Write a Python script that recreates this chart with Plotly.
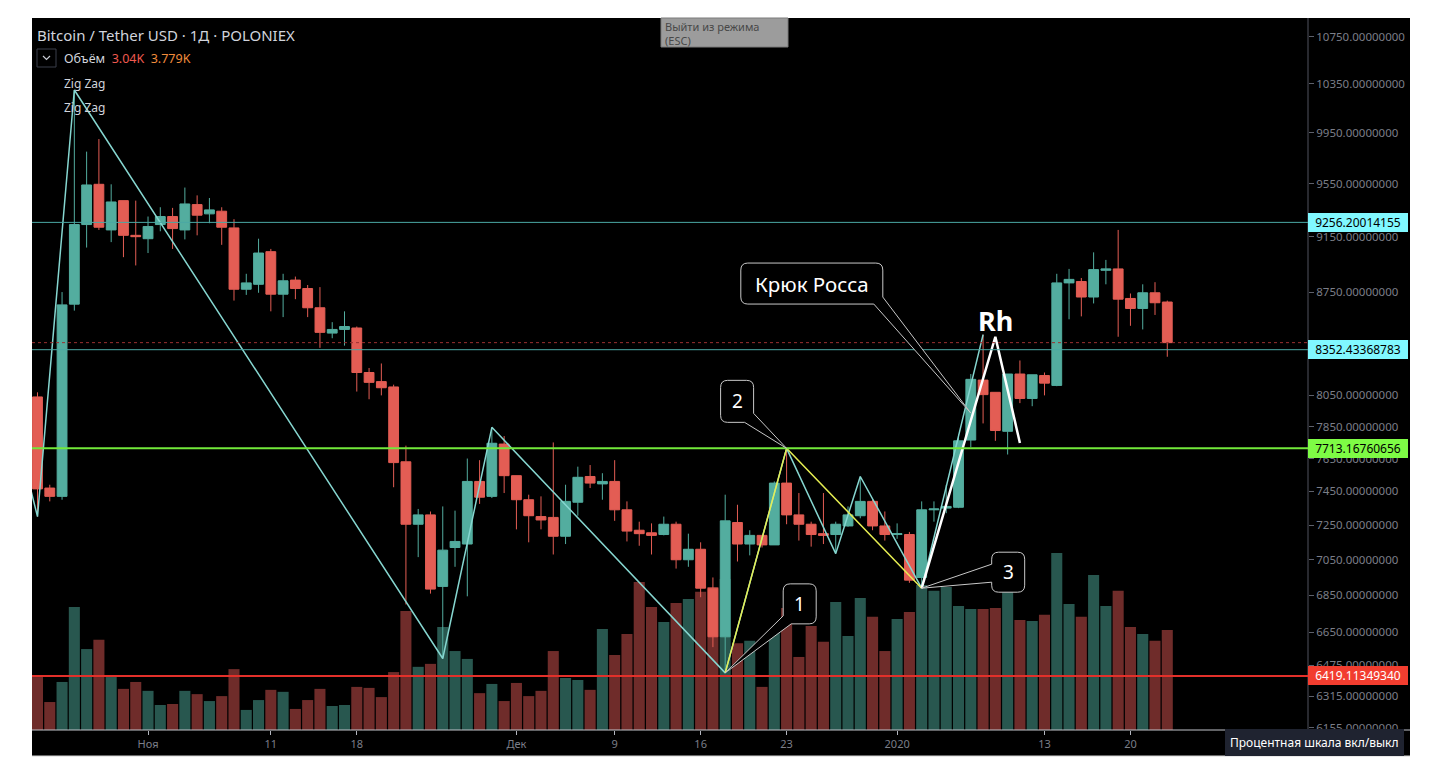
#
#   plot.py
#   BTC/USDT daily candles (Poloniex) with volume, zig zag and Ross hook markup
#

import math
import pandas as pd
import plotly.graph_objects as go


#
#   data
#
dates = pd.date_range("2019-10-23", "2020-01-23", freq="D")

opens = [8040, 7470, 7420, 8665, 9240, 9545, 9200, 9420, 9160, 9135,
         9240, 9300, 9200, 9390, 9320, 9340, 9215, 8770, 8805, 9040,
         8735, 8835, 8775, 8640, 8465, 8490, 8500, 8200, 8140, 8105,
         7630, 7255, 7310, 6900, 7120, 7140, 7510, 7420, 7740, 7545,
         7400, 7300, 7295, 7185, 7385, 7540, 7495, 7510, 7340, 7220,
         7205, 7195, 7255, 7050, 7110, 6890, 6625, 7265, 7140, 7190,
         7135, 7500, 7310, 7255, 7200, 7195, 7245, 7305, 7390, 7245,
         7195, 7195, 6950, 7340, 7350, 7355, 7765, 8150, 8070, 7820,
         8190, 8030, 8180, 8115, 8815, 8825, 8715, 8905, 8915, 8705,
         8635, 8745, 8680]
highs = [8070, 7490, 8750, 10300, 9800, 9900, 9545, 9420, 9420, 9300,
         9370, 9365, 9520, 9460, 9440, 9370, 9280, 8880, 9135, 9060,
         8880, 8860, 8800, 8785, 8540, 8615, 8510, 8230, 8260, 8120,
         7730, 7345, 7330, 7360, 7335, 7650, 7640, 7845, 7790, 7545,
         7430, 7420, 7750, 7490, 7600, 7610, 7560, 7640, 7390, 7270,
         7260, 7300, 7270, 7200, 7150, 6950, 7430, 7370, 7220, 7190,
         7510, 7713, 7440, 7270, 7440, 7270, 7360, 7540, 7400, 7330,
         7260, 7210, 7390, 7390, 7490, 7800, 8190, 8455, 8070, 8190,
         8280, 8185, 8200, 8880, 8915, 8850, 9035, 8980, 9200, 8740,
         8805, 8820, 8690]
lows = [7300, 7390, 7400, 8620, 9070, 9200, 9110, 9000, 8940, 9030,
        9190, 9060, 9130, 9160, 9250, 9090, 8690, 8730, 8745, 8615,
        8575, 8700, 8575, 8365, 8430, 8380, 8075, 8025, 8050, 7475,
        6800, 7065, 6860, 6510, 7010, 6845, 7375, 7410, 7440, 7225,
        7150, 7225, 7080, 7140, 7305, 7470, 7400, 7275, 7155, 7130,
        7080, 7190, 7000, 7010, 6840, 6570, 6435, 7040, 7075, 7120,
        7135, 7255, 7160, 7125, 7140, 7085, 7240, 7290, 7220, 7160,
        7170, 6920, 6890, 7270, 7320, 7350, 7720, 7870, 7760, 7675,
        8000, 7980, 8050, 8110, 8560, 8580, 8670, 8805, 8440, 8515,
        8490, 8590, 8305]
closes = [7465, 7420, 8660, 9240, 9540, 9220, 9410, 9160, 9150, 9225,
          9300, 9210, 9395, 9310, 9350, 9220, 8770, 8815, 9030, 8735,
          8830, 8775, 8640, 8470, 8490, 8510, 8200, 8135, 8100, 7625,
          7255, 7310, 6885, 7105, 7155, 7510, 7415, 7745, 7545, 7400,
          7305, 7280, 7185, 7390, 7535, 7500, 7510, 7340, 7215, 7200,
          7190, 7255, 7050, 7110, 6890, 6625, 7275, 7140, 7190, 7135,
          7500, 7310, 7255, 7195, 7190, 7255, 7310, 7390, 7245, 7195,
          7200, 6935, 7340, 7345, 7360, 7760, 8155, 8055, 7825, 8190,
          8030, 8185, 8130, 8815, 8840, 8715, 8910, 8915, 8700, 8635,
          8745, 8675, 8400]
# volume, thousands
volumes = [1.61, 0.85, 1.46, 3.74, 2.46, 2.74, 1.61, 1.25, 1.46, 1.19,
           0.76, 0.79, 1.19, 1.09, 0.88, 1.03, 1.85, 0.61, 0.91, 1.22,
           1.16, 0.64, 0.91, 1.25, 0.73, 0.76, 1.31, 1.28, 1.00, 1.76,
           3.62, 1.92, 2.01, 3.13, 2.40, 2.16, 1.12, 1.40, 0.88, 1.43,
           1.03, 1.19, 2.40, 1.58, 1.52, 1.22, 3.07, 2.28, 2.92, 4.50,
           3.74, 3.28, 3.86, 3.98, 4.20, 4.35, 4.59, 2.64, 2.71, 1.31,
           2.98, 3.71, 2.22, 3.16, 2.68, 3.89, 2.86, 4.01, 3.44, 2.40,
           3.37, 3.59, 4.41, 4.23, 4.35, 3.77, 3.68, 3.68, 3.71, 4.56,
           3.34, 3.31, 3.50, 5.38, 3.83, 3.44, 4.71, 3.77, 4.23, 3.13,
           2.92, 2.71, 3.04]
vol_ma = 3.779

# zig zag pivots
zz_dates = ["2019-10-21", "2019-10-23", "2019-10-26", "2019-11-25", "2019-11-29",
            "2019-12-18", "2019-12-23", "2019-12-27", "2019-12-29", "2020-01-03",
            "2020-01-08"]
zz_prices = [7900, 7300, 10300, 6510, 7845, 6435, 7713, 7085, 7540, 6890, 8455]

# hand drawn lines 1-2-3 and the hook
yel_dates = ["2019-12-18", "2019-12-23", "2020-01-03"]
yel_prices = [6435, 7713.17, 6890]
wht_dates = ["2020-01-03", "2020-01-09", "2020-01-11"]
wht_prices = [6890, 8440, 7747]

# horizontal levels
levels = [9256.20014155, 8352.43368783, 7713.16760656, 6419.11349340]
level_line = ['#4aa8a4', '#4aa8a4', '#72e83a', '#e3302a']
level_width = [1, 1, 2, 2]
level_box = ['#80f8ff', '#80f8ff', '#7efb45', '#f23d2f']
level_txt = ['#000000', '#000000', '#000000', '#ffffff']

# callouts
callout_labels = ["1", "2", "3", "Крюк Росса"]
callout_sizes = [19, 19, 19, 20.5]
callout_dates = ["2019-12-18", "2019-12-23", "2020-01-03", "2020-01-07"]
callout_prices = [6435, 7713.17, 6890, 7936]

# axis ticks (8350 sits under the 8352 tag, so it is left out)
price_ticks = [10750, 10350, 9950, 9550, 9150, 8750, 8050, 7850, 7650,
               7450, 7250, 7050, 6850, 6650, 6475, 6315, 6155]
time_ticks = ["2019-11-01", "2019-11-11", "2019-11-18", "2019-12-01", "2019-12-09",
              "2019-12-16", "2019-12-23", "2020-01-01", "2020-01-13", "2020-01-20"]
time_labels = ["Ноя", "11", "18", "Дек", "9", "16", "23", "2020", "13", "20"]


#
#   helpers
#
FONT = "Noto Sans"
UP, DOWN = '#53ad9f', '#e35d54'
VUP, VDOWN = '#28574f', '#6f2c2a'


def px(x):          # reference pixel -> paper
    return (x - 32) / 1276


def py(y):
    return (730 - y) / 712


def balloon_path(pts, r=7):
    # pts: (x, y, rounded) in pixels from the tip, y up
    out = [f"M{pts[0][0]},{pts[0][1]}"]
    n = len(pts)
    for i in range(1, n):
        x, y, rd = pts[i]
        if not rd:
            out.append(f"L{x},{y}")
            continue
        ax, ay = pts[i - 1][:2]
        bx, by = pts[(i + 1) % n][:2]
        da = math.hypot(ax - x, ay - y)
        db = math.hypot(bx - x, by - y)
        ix, iy = x + (ax - x) * r / da, y + (ay - y) * r / da
        ox, oy = x + (bx - x) * r / db, y + (by - y) * r / db
        out.append(f"L{ix:.1f},{iy:.1f} Q{x},{y} {ox:.1f},{oy:.1f}")
    out.append("Z")
    return " ".join(out)


balloons = [
    [(0, 0, False), (58, 57, False), (58, 89, True), (91, 89, True), (91, 49, True), (66, 49, False)],
    [(0, 0, False), (-42, 26, False), (-66, 26, True), (-66, 68, True), (-33, 68, True), (-33, 35, False)],
    [(0, 0, False), (70, 24, False), (70, 36, True), (103, 36, True), (103, -4, True), (70, -4, True), (70, 6, False)],
    [(0, 0, False), (-97, 109, False), (-230, 109, True), (-230, 150, True), (-88, 150, True), (-88, 116, False)],
]
balloon_centers = [(74.5, 69), (-49.5, 47), (86.5, 16), (-159, 129.5)]


#
#   traces
#
fig = go.Figure()

vcolors = [VUP if c >= o else VDOWN for o, c in zip(opens, closes)]
fig.add_trace(go.Bar(x=dates, y=volumes, marker=dict(color=vcolors, line=dict(width=0)),
                     yaxis='y', hoverinfo='skip'))

fig.add_trace(go.Candlestick(x=dates, open=opens, high=highs, low=lows, close=closes,
                             increasing=dict(line=dict(color=UP, width=1), fillcolor=UP),
                             decreasing=dict(line=dict(color=DOWN, width=1), fillcolor=DOWN),
                             whiskerwidth=0, yaxis='y2', hoverinfo='skip'))

fig.add_trace(go.Scatter(x=zz_dates, y=zz_prices, mode='lines', yaxis='y2',
                         line=dict(color='#86d6d0', width=1.5), hoverinfo='skip'))
fig.add_trace(go.Scatter(x=yel_dates, y=yel_prices, mode='lines', yaxis='y2',
                         line=dict(color='#e6ee52', width=1.5), hoverinfo='skip'))
fig.add_trace(go.Scatter(x=wht_dates, y=wht_prices, mode='lines', yaxis='y2',
                         line=dict(color='#ffffff', width=2.5), hoverinfo='skip'))

#
#   frame pieces outside the plot area
#
fig.add_shape(type='rect', xref='paper', yref='paper', x0=0, x1=px(1410), y0=py(756), y1=1,
              fillcolor='black', line=dict(width=0), layer='below')
fig.add_shape(type='line', xref='paper', yref='paper', x0=0, x1=px(1410), y0=0, y1=0,
              line=dict(color='#c3c5cc', width=1))
fig.add_shape(type='line', xref='paper', yref='paper', x0=1, x1=1, y0=py(756), y1=1,
              line=dict(color='#50535e', width=1))
fig.add_shape(type='line', xref='paper', yref='paper', x0=0, x1=px(1410), y0=py(756), y1=py(756),
              line=dict(color='#d4d4d4', width=1))

# last price line
fig.add_shape(type='line', xref='paper', yref='y2', x0=0, x1=1, y0=closes[-1], y1=closes[-1],
              line=dict(color='#9b3030', width=1, dash='dot'))

# levels with their price tags
for v, lc, lw, bc, tc in zip(levels, level_line, level_width, level_box, level_txt):
    fig.add_shape(type='line', xref='paper', yref='y2', x0=0, x1=1, y0=v, y1=v,
                  line=dict(color=lc, width=lw))
    fig.add_annotation(xref='paper', yref='y2', x=px(1308), y=math.log10(v), xanchor='left',
                       text=f"{v:.8f}", showarrow=False, bgcolor=bc, bordercolor=bc,
                       borderwidth=1, borderpad=1, width=96, height=15, align='center',
                       font=dict(family=FONT, size=12, color=tc))

# callout balloons
for lab, fs, d, p, pts, (cx, cy) in zip(callout_labels, callout_sizes, callout_dates,
                                        callout_prices, balloons, balloon_centers):
    fig.add_shape(type='path', xref='x', yref='y2', xsizemode='pixel', ysizemode='pixel',
                  xanchor=d, yanchor=p, path=balloon_path(pts),
                  fillcolor='black', line=dict(color='#c8c8c8', width=1), layer='above')
    fig.add_annotation(xref='x', yref='y2', x=d, y=math.log10(p), xshift=cx, yshift=cy,
                       text=lab, showarrow=False,
                       font=dict(family=FONT, size=fs, color='#ffffff'))

fig.add_annotation(xref='x', yref='y2', x="2020-01-09", y=math.log10(8555), text="<b>Rh</b>",
                   showarrow=False, font=dict(family=FONT, size=27, color='#ffffff'))

#
#   legend texts, tooltips
#
fig.add_annotation(xref='paper', yref='paper', x=px(35), y=py(35), xanchor='left', yanchor='middle',
                   text="Bitcoin / Tether USD · 1Д · POLONIEX", showarrow=False,
                   font=dict(family=FONT, size=15, color='#d1d4dc'))
fig.add_shape(type='rect', xref='paper', yref='paper', x0=px(37), x1=px(56), y0=py(67), y1=py(49),
              fillcolor='black', line=dict(color='#3a3e4a', width=1))
fig.add_shape(type='path', xref='paper', yref='paper',
              path=f"M{px(43)},{py(56)} L{px(46.5)},{py(59.5)} L{px(50)},{py(56)}",
              line=dict(color='#c9ccd4', width=1.2))
fig.add_annotation(xref='paper', yref='paper', x=px(62), y=py(58), xanchor='left', yanchor='middle',
                   text=f"Объём  <span style='color:#f05a50'>{volumes[-1]:.2f}K</span>"
                        f"  <span style='color:#f08c3c'>{vol_ma:.3f}K</span>",
                   showarrow=False, font=dict(family=FONT, size=12.5, color='#d1d4dc'))
for yy in (83, 107):
    fig.add_annotation(xref='paper', yref='paper', x=px(62), y=py(yy), xanchor='left',
                       yanchor='middle', text="Zig Zag", showarrow=False,
                       font=dict(family=FONT, size=12, color='#d1d4dc'))

fig.add_shape(type='rect', xref='paper', yref='paper', x0=px(661), x1=px(788), y0=py(47), y1=1,
              fillcolor='#9c9c9c', line=dict(color='#7a7a7a', width=1))
fig.add_annotation(xref='paper', yref='paper', x=px(663), y=py(17), xanchor='left', yanchor='top',
                   text="Выйти из режима<br>(ESC)", showarrow=False, align='left',
                   font=dict(family=FONT, size=11, color='#484848'))

fig.add_shape(type='rect', xref='paper', yref='paper', x0=px(1225), x1=px(1404), y0=py(756),
              y1=py(729), fillcolor='#1f2330', line=dict(width=0))
fig.add_annotation(xref='paper', yref='paper', x=px(1314.5), y=py(742.5), xanchor='center',
                   yanchor='middle', text="Процентная шкала вкл/выкл", showarrow=False,
                   font=dict(family=FONT, size=12, color='#ffffff'))

#
#   layout: the page puts the figure 8px in from the corner, so the
#   figure is 8px smaller and the margins are shifted to match
#
fig.update_layout(
    width=1424, height=768,
    margin=dict(l=24, r=124, t=10, b=46, autoexpand=False),
    paper_bgcolor='#ffffff', plot_bgcolor='#000000',
    showlegend=False, bargap=0.1, boxgap=0, boxgroupgap=0.2,
    xaxis=dict(type='date', range=["2019-10-22 13:15", "2020-02-03 11:00"],
               tickvals=time_ticks, ticktext=time_labels, ticks='outside', ticklen=4,
               tickcolor='#b2b5be', tickfont=dict(family=FONT, size=11, color='#7b7e88'),
               showgrid=False, zeroline=False, showline=False,
               rangeslider=dict(visible=False)),
    yaxis=dict(range=[0, 21.64], visible=False, fixedrange=True),
    yaxis2=dict(type='log', overlaying='y', side='right',
                range=[math.log10(6145), math.log10(10916)],
                tickvals=price_ticks, ticktext=[f"{v:.8f}" for v in price_ticks],
                ticks='outside', ticklen=5, tickcolor='#5d606b',
                tickfont=dict(family=FONT, size=11.5, color='#7b7e88'),
                showgrid=False, zeroline=False, showline=False),
)

fig.write_html("out.html")
